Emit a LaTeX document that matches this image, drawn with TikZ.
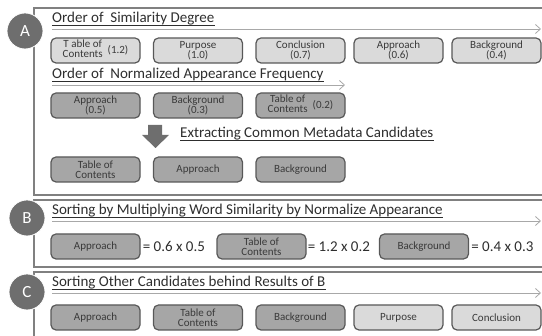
\documentclass[tikz,border=0pt]{standalone}
\usepackage{fontspec}
\setmainfont{Carlito}
\usepackage{tikz}
\usetikzlibrary{positioning}
\usetikzlibrary{arrows.meta}
\usepackage{xcolor}
\definecolor{lightfill}{HTML}{DADADA}
\definecolor{darkfill}{HTML}{A6A6A6}
\definecolor{boxline}{HTML}{585858}
\definecolor{boxtext}{HTML}{3A3A3A}
\definecolor{titletext}{HTML}{2E2E2E}
\definecolor{panelline}{HTML}{808080}
\definecolor{guideline}{HTML}{A8A8A8}
\definecolor{badgefill}{HTML}{6E6E6E}

\begin{document}
\begin{tikzpicture}[x=1pt, y=-1pt,
    lightbox/.style={draw=boxline, fill=lightfill, line width=1.2pt, rounded corners=5pt,
        minimum width=89pt, minimum height=25pt, inner sep=1pt, align=center,
        text=boxtext, font=\fontsize{11}{10.5}\selectfont},
    darkbox/.style={lightbox, fill=darkfill},
    title/.style={anchor=base west, inner sep=0pt, text=titletext, font=\fontsize{15}{15}\selectfont},
    eqtext/.style={inner sep=0pt, text=titletext, font=\fontsize{15}{15}\selectfont},
    underline/.style={draw=titletext, line width=0.8pt},
    guide/.style={draw=guideline, line width=0.8pt, -{Straight Barb[length=5pt, width=9pt]}},
    panel/.style={draw=panelline, line width=1.6pt},
    badge/.style={circle, fill=badgefill, draw=white, line width=0.8pt, minimum size=36pt,
        inner sep=0pt, text=white, font=\fontsize{17}{17}\selectfont}]
    \useasboundingbox (0,0) rectangle (542,336);
    \clip (0,0) rectangle (542,336);

    % Panels
    \draw[panel] (560,8) -- (34,8) -- (34,195) -- (560,195);
    \draw[panel] (560,200) -- (34,200) -- (34,267) -- (560,267);
    \draw[panel] (560,272) -- (34,272) -- (34,345);

    % Badges
    \node[badge] (badgeA) at (25,31) {A};
    \node[badge] (badgeB) at (27,218) {B};
    \node[badge] (badgeC) at (27,292) {C};

    % A: order of similarity degree
    \node[title] (simTitle) at (52,23) {Order of\ \ Similarity Degree};
    \draw[underline] ([yshift=-2.5pt]simTitle.base west) -- ([yshift=-2.5pt]simTitle.base east);
    \coordinate (simEnd) at (541,29);
    \draw[guide] ([yshift=-6pt]simTitle.base west) -- (simEnd);
    \node[lightbox] (simToc) at (95.5,50.5) {\begin{tabular}{@{}c@{}}T able of\\Contents\end{tabular}\ \ (1.2)};
    \node[lightbox] (simPur) at (198,50.5) {Purpose\\(1.0)};
    \node[lightbox] (simCon) at (300.5,50.5) {Conclusion\\(0.7)};
    \node[lightbox] (simApp) at (398.5,50.5) {Approach\\(0.6)};
    \node[lightbox] (simBack) at (496.5,50.5) {Background\\(0.4)};

    % A: order of normalized appearance frequency
    \node[title] (freqTitle) at (52,79) {Order of\ \ Normalized Appearance Frequency};
    \draw[underline] ([yshift=-2.5pt]freqTitle.base west) -- ([yshift=-2.5pt]freqTitle.base east);
    \coordinate (freqEnd) at (345,85);
    \draw[guide] ([yshift=-6pt]freqTitle.base west) -- (freqEnd);
    \node[darkbox] (freqApp) at (95.5,105.5) {Approach\\(0.5)};
    \node[darkbox] (freqBack) at (198,105.5) {Background\\(0.3)};
    \node[darkbox] (freqToc) at (300.5,105.5) {\begin{tabular}{@{}c@{}}Table of\\Contents\end{tabular}\ \ (0.2)};

    % A: extracting
    \fill[badgefill] (148,125) -- (162,125) -- (162,135) -- (169,135) -- (155.5,148)
        -- (142,135) -- (148,135) -- cycle;
    \node[title] (extTitle) at (180,138) {Extracting Common Metadata Candidates};
    \draw[underline] ([yshift=-2.5pt]extTitle.base west) -- ([yshift=-2.5pt]extTitle.base east);
    \node[darkbox] (extToc) at (95.5,169.5) {Table of\\Contents};
    \node[darkbox] (extApp) at (198,169.5) {Approach};
    \node[darkbox] (extBack) at (300.5,169.5) {Background};

    % B: multiplying
    \node[title] (mulTitle) at (52,215) {Sorting by Multiplying Word Similarity by Normalize Appearance};
    \draw[underline] ([yshift=-2.5pt]mulTitle.base west) -- ([yshift=-2.5pt]mulTitle.base east);
    \coordinate (mulEnd) at (541,221);
    \draw[guide] ([yshift=-6pt]mulTitle.base west) -- (mulEnd);
    \node[darkbox] (mulApp) at (95.5,246.5) {Approach};
    \node[eqtext, right=2pt of mulApp] (mulAppEq) {= 0.6 x 0.5};
    \node[darkbox] (mulToc) at (261.5,246.5) {Table of\\Contents};
    \node[eqtext, right=1pt of mulToc] (mulTocEq) {= 1.2 x 0.2};
    \node[darkbox] (mulBack) at (424,246.5) {Background};
    \node[eqtext, right=2pt of mulBack] (mulBackEq) {= 0.4 x 0.3};

    % C: other candidates
    \node[title] (othTitle) at (52,287) {Sorting Other Candidates behind Results of B};
    \draw[underline] ([yshift=-2.5pt]othTitle.base west) -- ([yshift=-2.5pt]othTitle.base east);
    \coordinate (othEnd) at (541,293);
    \draw[guide] ([yshift=-6pt]othTitle.base west) -- (othEnd);
    \node[darkbox] (othApp) at (95.5,317.5) {Approach};
    \node[darkbox] (othToc) at (198,317.5) {Table of\\Contents};
    \node[darkbox] (othBack) at (300.5,317.5) {Background};
    \node[lightbox] (othPur) at (398.5,317.5) {Purpose};
    \node[lightbox] (othCon) at (496.5,317.5) {Conclusion};
\end{tikzpicture}
\end{document}
